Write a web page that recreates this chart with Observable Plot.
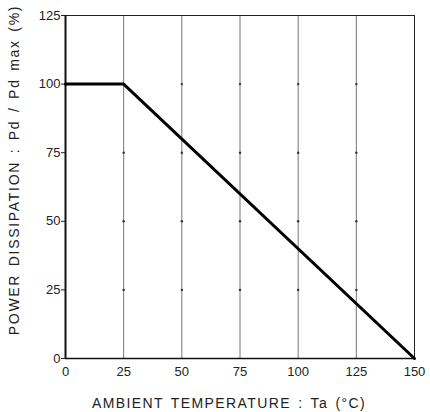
<!DOCTYPE html>
<html><head><meta charset="utf-8">
<script src="https://cdn.jsdelivr.net/npm/d3@7"></script>
<script src="https://cdn.jsdelivr.net/npm/@observablehq/plot@0.6"></script>
<style>
body{margin:0;background:#fff;}
svg{font-family:"Liberation Sans",Arial,sans-serif;}
</style>
</head><body>
<div id="chart"></div>
<script>
const temps = [0, 25, 150];
const power = [100, 100, 0];
const xTicks = [0, 25, 50, 75, 100, 125, 150];
const yTicks = [0, 25, 50, 75, 100, 125];
const gridX = [25, 50, 75, 100, 125];
const gridY = [25, 50, 75, 100];
const xLabel = "AMBIENT TEMPERATURE : Ta (°C)";
const yLabel = "POWER DISSIPATION : Pd / Pd max (%)";

const curve = temps.map((t, i) => ({t, p: power[i]}));
const dots = gridX.flatMap(x => gridY.map(y => ({x, y})));

const chart = Plot.plot({
  width: 430,
  height: 412,
  marginLeft: 65,
  marginRight: 16,
  marginTop: 15,
  marginBottom: 54,
  style: {fontSize: "13px", color: "#222", background: "#fff"},
  x: {domain: [0, 150]},
  y: {domain: [0, 125]},
  marks: [
    Plot.ruleX(gridX, {stroke: "#666", strokeWidth: 0.9}),
    Plot.dot(dots, {x: "x", y: "y", r: 1.2, fill: "#333", stroke: null}),
    Plot.frame({stroke: "#222", strokeWidth: 1}),
    Plot.ruleX([0], {stroke: "#111", strokeWidth: 2}),
    Plot.ruleY([0], {stroke: "#111", strokeWidth: 1.5}),
    Plot.axisX({ticks: xTicks, tickSize: 0, tickPadding: 8, label: null, fontSize: 13}),
    Plot.axisY({ticks: yTicks, tickSize: 4, tickPadding: 1, label: null, fontSize: 13}),
    Plot.text([xLabel], {frameAnchor: "bottom", textAnchor: "middle", dy: 49, dx: -11, text: d => d, fontSize: 14, fill: "#222"}),
    Plot.text([yLabel], {frameAnchor: "left", textAnchor: "middle", dx: -51, dy: -17, rotate: -90, text: d => d, fontSize: 14, fill: "#222"}),
    Plot.line(curve, {x: "t", y: "p", stroke: "#000", strokeWidth: 3})
  ]
});
d3.select(chart).selectAll("text").filter(function() { return this.textContent === xLabel; })
  .style("letter-spacing", "1.4px").style("word-spacing", "2px");
d3.select(chart).selectAll("text").filter(function() { return this.textContent === yLabel; })
  .style("letter-spacing", "1.7px").style("word-spacing", "2px");
document.getElementById("chart").appendChild(chart);
</script>
</body></html>
